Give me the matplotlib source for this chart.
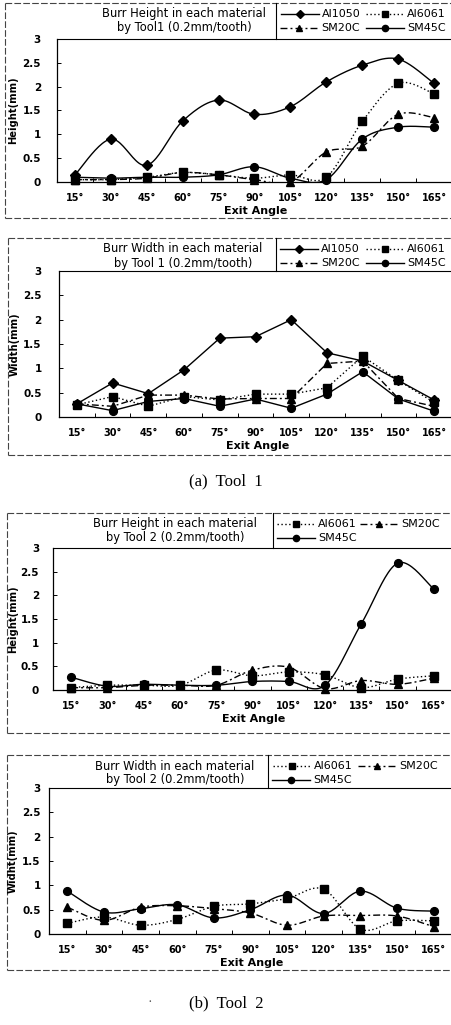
import numpy as np
import matplotlib
matplotlib.use("Agg")
import matplotlib.pyplot as plt
from matplotlib.lines import Line2D

# ---------------- data ----------------
angles = ["15°", "30°", "45°", "60°", "75°", "90°", "105°", "120°", "135°", "150°", "165°"]
yticks = [0, 0.5, 1, 1.5, 2, 2.5, 3]
ytick_labels = ["0", "0.5", "1", "1.5", "2", "2.5", "3"]

# Tool 1 - burr height
t1h_al1050 = [0.15, 0.90, 0.35, 1.28, 1.72, 1.42, 1.58, 2.10, 2.45, 2.58, 2.07]
t1h_al6061 = [0.05, 0.05, 0.10, 0.20, 0.15, 0.08, 0.15, 0.10, 1.27, 2.07, 1.85]
t1h_sm20c = [0.05, 0.05, 0.08, 0.20, 0.15, 0.05, 0.00, 0.63, 0.75, 1.42, 1.35]
t1h_sm45c = [0.10, 0.08, 0.10, 0.10, 0.15, 0.32, 0.08, 0.05, 0.90, 1.15, 1.15]

# Tool 1 - burr width
t1w_al1050 = [0.27, 0.70, 0.48, 0.97, 1.62, 1.65, 2.00, 1.32, 1.15, 0.75, 0.35]
t1w_al6061 = [0.25, 0.42, 0.22, 0.42, 0.35, 0.47, 0.47, 0.60, 1.25, 0.75, 0.30]
t1w_sm20c = [0.27, 0.22, 0.45, 0.45, 0.37, 0.38, 0.38, 1.10, 1.15, 0.38, 0.22]
t1w_sm45c = [0.27, 0.13, 0.32, 0.38, 0.22, 0.37, 0.18, 0.47, 0.93, 0.37, 0.12]

# Tool 2 - burr height
t2h_al6061 = [0.05, 0.10, 0.10, 0.10, 0.42, 0.30, 0.38, 0.32, 0.05, 0.23, 0.30]
t2h_sm20c = [0.05, 0.05, 0.10, 0.10, 0.10, 0.42, 0.48, 0.03, 0.20, 0.12, 0.25]
t2h_sm45c = [0.27, 0.08, 0.12, 0.10, 0.10, 0.18, 0.18, 0.10, 1.40, 2.68, 2.13]

# Tool 2 - burr width
t2w_al6061 = [0.22, 0.35, 0.18, 0.30, 0.57, 0.62, 0.73, 0.92, 0.10, 0.27, 0.27]
t2w_sm20c = [0.55, 0.28, 0.55, 0.58, 0.52, 0.43, 0.18, 0.37, 0.38, 0.37, 0.15]
t2w_sm45c = [0.88, 0.45, 0.52, 0.60, 0.33, 0.50, 0.80, 0.42, 0.88, 0.53, 0.47]

W, H = 452, 1025
fig = plt.figure(figsize=(W / 100, H / 100), dpi=100)
fig.patch.set_facecolor("white")

SANS = ["DejaVu Sans"]
SERIF = ["Liberation Serif", "DejaVu Serif"]

STY = {
    "Al1050": dict(ls="-", marker="D", ms=4.6, dashes=None),
    "Al6061": dict(ls=":", marker="s", ms=6.0, dashes=(1.0, 1.8)),
    "SM20C": dict(ls="-.", marker="^", ms=5.6, dashes=(5.0, 2.2, 1.4, 2.2)),
    "SM45C": dict(ls="-", marker="o", ms=5.6, dashes=None),
}
LW = 1.0


def smooth(y, n=24):
    x = np.arange(len(y), dtype=float)
    pts = np.column_stack([x, np.asarray(y, dtype=float)])
    out = []
    for i in range(len(pts) - 1):
        p0 = pts[max(i - 1, 0)]
        p1 = pts[i]
        p2 = pts[i + 1]
        p3 = pts[min(i + 2, len(pts) - 1)]
        c1 = p1 + (p2 - p0) / 6.0
        c2 = p2 - (p3 - p1) / 6.0
        t = np.linspace(0, 1, n)[:, None]
        seg = (1 - t) ** 3 * p1 + 3 * (1 - t) ** 2 * t * c1 + 3 * (1 - t) * t ** 2 * c2 + t ** 3 * p2
        out.append(seg if i == 0 else seg[1:])
    s = np.vstack(out)
    return s[:, 0], s[:, 1]


def px_axes(left, top, right, bottom):
    return fig.add_axes([left / W, 1 - bottom / H, (right - left) / W, (bottom - top) / H])


# overlay in pixel coordinates for frames, titles and legends
ov = fig.add_axes([0, 0, 1, 1], zorder=10)
ov.set_xlim(0, W)
ov.set_ylim(H, 0)
ov.axis("off")
ov.patch.set_alpha(0)


def draw_panel(series, names, smoothed, L, top, bottom, spacing, ylabel, ylab_x, ypad,
               box, title, title_cx, leg_x, leg_items):
    right = W
    ax = px_axes(L, top, right, bottom)
    ax.set_xlim(-0.5, -0.5 + (right - L) / spacing)
    ax.set_ylim(0, 3)
    x = np.arange(len(angles))
    for vals, nm in zip(series, names):
        st = STY[nm]
        if smoothed:
            sx, sy = smooth(vals)
        else:
            sx, sy = x, np.asarray(vals, dtype=float)
        ln, = ax.plot(sx, sy, color="black", lw=LW, ls=st["ls"], clip_on=True)
        if st["dashes"] is not None:
            ln.set_dashes(st["dashes"])
        ax.plot(x, vals, ls="none", marker=st["marker"], ms=st["ms"], color="black",
                mec="black", clip_on=False, zorder=3)
    ax.set_xticks(x)
    ax.set_xticklabels(angles, fontfamily=SANS, fontsize=7, fontweight="bold")
    ax.set_xticks(np.arange(len(angles) + 1) - 0.5, minor=True)
    ax.tick_params(axis="x", which="major", length=0, pad=8)
    ax.tick_params(axis="x", which="minor", length=3, direction="in", width=0.7)
    ax.set_yticks(yticks)
    ax.set_yticklabels(ytick_labels, fontfamily=SANS, fontsize=7.5, fontweight="bold")
    ax.tick_params(axis="y", length=3, direction="in", width=0.7, pad=ypad)
    ax.spines["right"].set_visible(False)
    ax.spines["top"].set_linestyle((0, (1, 1)))
    ax.spines["top"].set_linewidth(0.8)
    ax.spines["left"].set_linewidth(0.9)
    ax.spines["bottom"].set_linewidth(0.9)
    ax.patch.set_alpha(0)

    # y label & x label
    ov.text(ylab_x, (top + bottom) / 2, ylabel, rotation=90, ha="center", va="center",
            fontfamily=SANS, fontsize=7.2, fontweight="bold")
    ov.text(L + (10 * spacing) / 2 + spacing / 2, bottom + 29, "Exit Angle", ha="center",
            va="center", fontfamily=SANS, fontsize=8, fontweight="bold")

    # outer frame
    bl, bt, bb = box
    ov.plot([bl, W], [bt, bt], color="#444444", lw=0.8, ls=(0, (6, 2)))
    ov.plot([bl, bl], [bt, bb], color="#444444", lw=0.8, ls=(0, (6, 2)))
    ov.plot([bl, W], [bb, bb], color="#444444", lw=0.8, ls=(0, (6, 2)))
    # legend box left edge
    ov.plot([leg_x, leg_x], [bt, top], color="black", lw=0.8)

    # title
    ov.text(title_cx, bt + 11, title[0], ha="center", va="center",
            fontfamily=SANS, fontsize=8.3)
    ov.text(title_cx, bt + 25, title[1], ha="center", va="center",
            fontfamily=SANS, fontsize=8.3)

    # legend entries: (name, x_start, row)
    for nm, x0, row in leg_items:
        st = STY[nm]
        yy = bt + 11 + 14 * row
        hl = Line2D([x0, x0 + 38], [yy, yy], color="black", lw=LW, ls=st["ls"])
        if st["dashes"] is not None:
            hl.set_dashes(st["dashes"])
        ov.add_line(hl)
        ov.plot([x0 + 19], [yy], marker=st["marker"], ms=st["ms"] * 0.8, color="black",
                ls="none")
        ov.text(x0 + 41, yy, nm, ha="left", va="center", fontfamily=SANS, fontsize=8)


# Panel 1: Burr height, tool 1
draw_panel([t1h_al1050, t1h_al6061, t1h_sm20c, t1h_sm45c],
           ["Al1050", "Al6061", "SM20C", "SM45C"], True,
           57, 39, 182, 36.1, "Height(mm)", 13, 11.5,
           (5, 3, 218), ("Burr Height in each material", "by Tool1 (0.2mm/tooth)"), 184, 276,
           [("Al1050", 281, 0), ("Al6061", 366, 0), ("SM20C", 280, 1), ("SM45C", 366, 1)])

# Panel 2: Burr width, tool 1
draw_panel([t1w_al1050, t1w_al6061, t1w_sm20c, t1w_sm45c],
           ["Al1050", "Al6061", "SM20C", "SM45C"], False,
           59, 271, 417, 36.1, "Width(mm)", 15, 12.5,
           (8, 238, 455), ("Burr Width in each material", "by Tool 1 (0.2mm/tooth)"), 183, 276,
           [("Al1050", 280, 0), ("Al6061", 366, 0), ("SM20C", 280, 1), ("SM45C", 366, 1)])

# Panel 3: Burr height, tool 2
draw_panel([t2h_al6061, t2h_sm20c, t2h_sm45c],
           ["Al6061", "SM20C", "SM45C"], True,
           53, 548, 690, 36.4, "Height(mm)", 13, 10,
           (7, 513, 733), ("Burr Height in each material", "by Tool 2 (0.2mm/tooth)"), 175, 273,
           [("Al6061", 277, 0), ("SM20C", 360, 0), ("SM45C", 277, 1)])

# Panel 4: Burr width, tool 2
draw_panel([t2w_al6061, t2w_sm20c, t2w_sm45c],
           ["Al6061", "SM20C", "SM45C"], True,
           49, 788, 934, 36.8, "Widht(mm)", 13, 6,
           (7, 755, 970), ("Burr Width in each material", "by Tool 2 (0.2mm/tooth)"), 175, 268,
           [("Al6061", 273, 0), ("SM20C", 358, 0), ("SM45C", 272, 1)])

# captions
ov.text(226, 481, "(a)  Tool  1", ha="center", va="center", fontfamily=SERIF, fontsize=12)
ov.text(226, 1003, "(b)  Tool  2", ha="center", va="center", fontfamily=SERIF, fontsize=12)
ov.text(150, 1003, "·", ha="center", va="center", fontfamily=SERIF, fontsize=10, color="#555555")

fig.savefig("out.png", dpi=100)
